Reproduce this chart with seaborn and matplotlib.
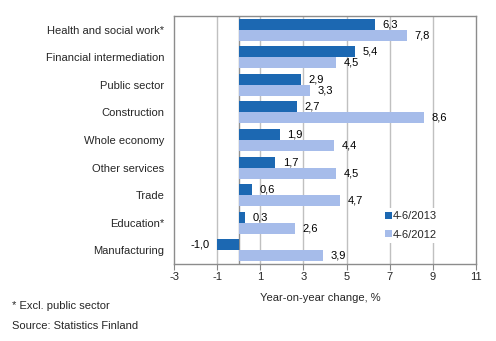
import matplotlib
matplotlib.use("Agg")
import matplotlib.pyplot as plt
import seaborn as sns
import pandas as pd

categories = ["Health and social work*", "Financial intermediation", "Public sector",
              "Construction", "Whole economy", "Other services", "Trade",
              "Education*", "Manufacturing"]
series_names = ["4-6/2013", "4-6/2012"]
values_2013 = [6.3, 5.4, 2.9, 2.7, 1.9, 1.7, 0.6, 0.3, -1.0]
values_2012 = [7.8, 4.5, 3.3, 8.6, 4.4, 4.5, 4.7, 2.6, 3.9]
xticks = [-3, -1, 1, 3, 5, 7, 9, 11]
colors = ["#1C68B2", "#A6BCEA"]

df = pd.DataFrame({
    "category": categories * 2,
    "period": [series_names[0]] * len(categories) + [series_names[1]] * len(categories),
    "value": values_2013 + values_2012,
})

sns.set_theme(style="white")
plt.rcParams["font.family"] = ["Liberation Sans", "DejaVu Sans"]
plt.rcParams["font.size"] = 8

fig, ax = plt.subplots(figsize=(4.96, 3.41), dpi=100)
fig.subplots_adjust(left=174/496, right=476/496, top=1-16/341, bottom=1-264/341)

sns.barplot(data=df, y="category", x="value", hue="period", order=categories,
            hue_order=series_names, palette=colors, width=0.8, saturation=1,
            orient="h", ax=ax, legend=False)

for cont in ax.containers:
    for b in cont:
        b.set_edgecolor("none")
    labels = [f"{b.get_width():.1f}".replace(".", ",") for b in cont]
    ax.bar_label(cont, labels=labels, padding=5.5, fontsize=8, color="black")

ax.set_xlim(-3, 11)
ax.set_xticks(xticks)
ax.set_xticklabels([str(t) for t in xticks], fontsize=8)
ax.set_ylabel("")
ax.set_xlabel("")
ax.tick_params(axis="y", length=0, pad=7, labelsize=8)
ax.tick_params(axis="x", length=4, width=0.8, color="#888888", direction="out", pad=2, bottom=True)

for t in xticks[1:-1]:
    ax.axvline(t, color="#C0C0C0", lw=1, zorder=0)
ax.axvline(0, color="#909090", lw=1, zorder=0.5)

for s in ax.spines.values():
    s.set_visible(True)
    s.set_color("#8C8C8C")
    s.set_linewidth(1)

from matplotlib.patches import Patch
handles = [Patch(facecolor=c, edgecolor="none") for c in colors]
leg = ax.legend(handles, series_names, loc="upper left",
                bbox_to_anchor=(382/496, 1-208/341), bbox_transform=fig.transFigure,
                frameon=True, fontsize=8, handlelength=0.6, handleheight=0.6,
                handletextpad=0.1, labelspacing=0.75, borderpad=0.3, borderaxespad=0)
leg.get_frame().set_facecolor("white")
leg.get_frame().set_edgecolor("none")
leg.get_frame().set_alpha(1)

fig.text(320/496, 1-298/341, "Year-on-year change, %", ha="center", va="center", fontsize=8)
fig.text(12/496, 1-306/341, "* Excl. public sector", ha="left", va="center", fontsize=8)
fig.text(12/496, 1-326/341, "Source: Statistics Finland", ha="left", va="center", fontsize=8)

fig.savefig("out.png", dpi=100)
